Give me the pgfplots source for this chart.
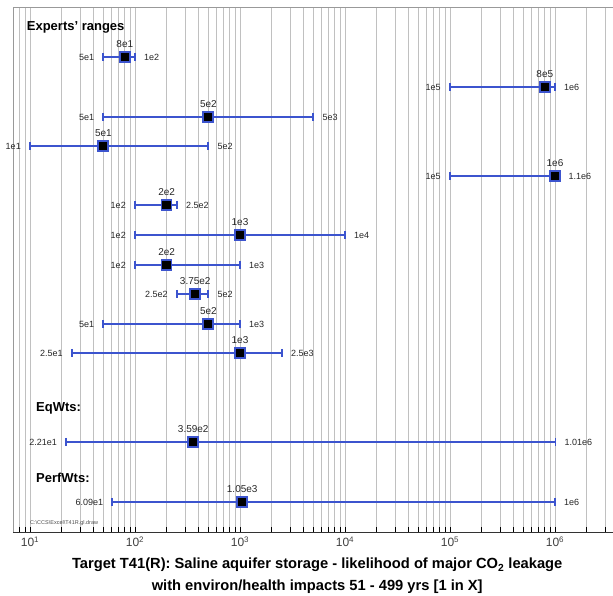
\documentclass[border=0pt]{standalone}
\usepackage{fontspec}
\setmainfont{Liberation Sans}
\usepackage{pgfplots}
\usepackage{pgfplotstable}
\pgfplotsset{compat=1.18}
\definecolor{rb}{RGB}{60,84,206}
\definecolor{gridg}{RGB}{192,192,192}

% y = vertical slot, lo / mid / hi = range values
\pgfplotstableread{
y lo mid hi
475 5e1 8e1 1e2
445 1e5 8e5 1e6
415 5e1 5e2 5e3
386 1e1 5e1 5e2
356 1e5 1e6 1.1e6
327 1e2 2e2 2.5e2
297 1e2 1e3 1e4
267 1e2 2e2 1e3
238 2.5e2 3.75e2 5e2
208 5e1 5e2 1e3
179 2.5e1 1e3 2.5e3
90 2.21e1 3.59e2 1.01e6
30 6.09e1 1.05e3 1e6
}\ranges

\begin{document}
\begin{tikzpicture}
\begin{axis}[
  name=ax,
  scale only axis, width=600pt, height=525pt,
  xmode=log, log basis x=10,
  xmin=6.89, xmax=3.57e6, ymin=0, ymax=525,
  ytick=\empty,
  xtick={10,100,1000,10000,100000,1000000},
  xticklabels={10\textsuperscript{1},10\textsuperscript{2},10\textsuperscript{3},10\textsuperscript{4},10\textsuperscript{5},10\textsuperscript{6}},
  minor xtick={7,8,9,20,30,40,50,60,70,80,90,200,300,400,500,600,700,800,900,2000,3000,4000,5000,6000,7000,8000,9000,20000,30000,40000,50000,60000,70000,80000,90000,200000,300000,400000,500000,600000,700000,800000,900000,2000000,3000000},
  xmajorgrids, xminorgrids,
  major grid style={gridg, line width=0.9pt},
  minor grid style={gridg, line width=0.9pt},
  xtick pos=left, tick align=inside,
  major tick length=5pt, minor tick length=5pt,
  every tick/.style={black, line width=0.7pt},
  axis line style={draw=none},
  tick label style={font=\fontsize{12}{14}\selectfont, text=black!75},
  xticklabel style={yshift=-1pt},
  clip=false,
  nodes near coords,
  point meta=explicit symbolic,
]
% frame lines (top, left, bottom)
\draw[gray!80, line width=0.8pt] (rel axis cs:0,0) -- (rel axis cs:0,1) -- (rel axis cs:1,1);
\draw[black!80, line width=0.9pt] (rel axis cs:0,0) -- (rel axis cs:1,0);

% range lines
\addplot[rb, line width=2.6pt, mark=none, nodes near coords=] coordinates {(5e1,475) (1e2,475)};
\addplot[rb, line width=2.6pt, mark=none, nodes near coords=] coordinates {(1e5,445) (1e6,445)};
\addplot[rb, line width=2.6pt, mark=none, nodes near coords=] coordinates {(5e1,415) (5e3,415)};
\addplot[rb, line width=2.6pt, mark=none, nodes near coords=] coordinates {(1e1,386) (5e2,386)};
\addplot[rb, line width=2.6pt, mark=none, nodes near coords=] coordinates {(1e5,356) (1.1e6,356)};
\addplot[rb, line width=2.6pt, mark=none, nodes near coords=] coordinates {(1e2,327) (2.5e2,327)};
\addplot[rb, line width=2.6pt, mark=none, nodes near coords=] coordinates {(1e2,297) (1e4,297)};
\addplot[rb, line width=2.6pt, mark=none, nodes near coords=] coordinates {(1e2,267) (1e3,267)};
\addplot[rb, line width=2.6pt, mark=none, nodes near coords=] coordinates {(2.5e2,238) (5e2,238)};
\addplot[rb, line width=2.6pt, mark=none, nodes near coords=] coordinates {(5e1,208) (1e3,208)};
\addplot[rb, line width=2.6pt, mark=none, nodes near coords=] coordinates {(2.5e1,179) (2.5e3,179)};
\addplot[rb, line width=2.6pt, mark=none, nodes near coords=] coordinates {(2.21e1,90) (1.01e6,90)};
\addplot[rb, line width=2.6pt, mark=none, nodes near coords=] coordinates {(6.09e1,30) (1e6,30)};

% lower caps
\addplot[rb, only marks, mark=|, mark size=4pt, mark options={line width=1.8pt},
  every node near coord/.append style={anchor=east, xshift=-5pt, text=black!85, font=\fontsize{9}{10}\selectfont}]
  table[x=lo, y=y, meta=lo] {\ranges};
% upper caps
\addplot[rb, only marks, mark=|, mark size=4pt, mark options={line width=1.8pt},
  every node near coord/.append style={anchor=west, xshift=5pt, text=black!85, font=\fontsize{9}{10}\selectfont}]
  table[x=hi, y=y, meta=hi] {\ranges};
% central values
\addplot[rb, only marks, mark=square*, mark size=5pt, mark options={fill=black, draw=rb, line width=1.8pt},
  every node near coord/.append style={anchor=south, yshift=5pt, text=black!85, font=\fontsize{10}{11}\selectfont}]
  table[x=mid, y=y, meta=mid] {\ranges};

% group titles
\node[anchor=west, font=\bfseries\fontsize{13}{15}\selectfont, inner sep=0pt] at (axis cs:9.3,505) {Experts' ranges};
\node[anchor=west, font=\bfseries\fontsize{13}{15}\selectfont, inner sep=0pt] at (axis cs:11.4,124) {EqWts:};
\node[anchor=west, font=\bfseries\fontsize{13}{15}\selectfont, inner sep=0pt] at (axis cs:11.4,54) {PerfWts:};
\node[anchor=west, font=\fontsize{5.5}{6}\selectfont, inner sep=0pt, text=black!70] at (axis cs:10,9) {C:\textbackslash CCS\textbackslash Excel\textbackslash T41R.gl.draw};

% x label
\node[anchor=north, align=center, font=\bfseries\fontsize{14.7}{22}\selectfont, inner sep=0pt]
  at (rel axis cs:0.507,0) [yshift=-26pt]
  {Target T41(R): Saline aquifer storage - likelihood of major CO\textsubscript{2} leakage\\with environ/health impacts 51 - 499 yrs [1 in X]};
\end{axis}
\pgfresetboundingbox
\path[use as bounding box] ([xshift=-13pt,yshift=-64pt]ax.south west) rectangle ([yshift=7pt]ax.north east);
\end{tikzpicture}
\end{document}
